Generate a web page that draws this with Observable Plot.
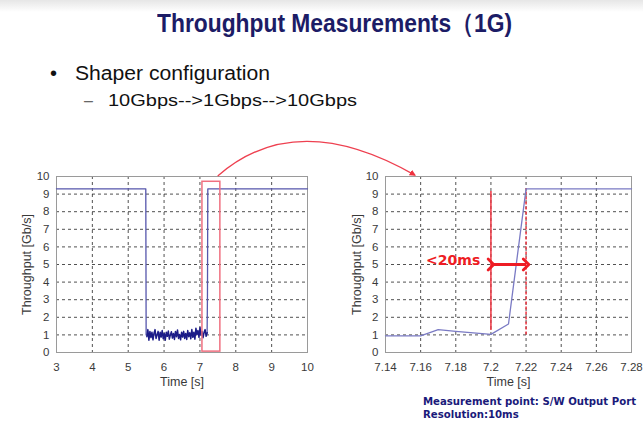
<!DOCTYPE html>
<html><head><meta charset="utf-8">
<script src="https://cdn.jsdelivr.net/npm/d3@7"></script>
<script src="https://cdn.jsdelivr.net/npm/@observablehq/plot@0.6"></script>
<style>
body{margin:0;background:#fff;}
#page{position:relative;width:643px;height:421px;overflow:hidden;font-family:"Liberation Sans",Arial,sans-serif;background:linear-gradient(#e6e6e6 0px,#ffffff 12px);}
.abs{position:absolute;white-space:nowrap;line-height:1;transform-origin:0 50%;}
.plot{position:absolute;}
</style></head><body><div id="page"></div>
<script>
// ---------- texts ----------
const titleText = "Throughput Measurements（1G)";
const bulletText = "Shaper configuration";
const subText = "10Gbps-->1Gbps-->10Gbps";
const noteLines = ["Measurement point: S/W Output Port", "Resolution:10ms"];
const xLabel = "Time [s]";
const yLabel = "Throughput [Gb/s]";
const spanLabel = "<20ms";

// ---------- ticks ----------
const yTicks = [0,1,2,3,4,5,6,7,8,9,10];
const leftXTicks = [3,4,5,6,7,8,9,10];
const rightXTicks = [7.14,7.16,7.18,7.2,7.22,7.24,7.26,7.28];

// ---------- left chart series ----------
const leftHighT1 = [3, 5.49, 5.5];
const leftHighV1 = [9.3, 9.3, 1.0];
const leftHighT2 = [7.2, 7.21, 7.22, 10];
const leftHighV2 = [1.1, 3.2, 9.3, 9.3];
const noiseStart = 5.52, noiseStep = 0.0285;
const noiseV = [0.9,1.3,0.7,1.2,0.85,1.15,0.72,1.1,1.3,0.8,1.0,1.2,0.7,1.15,0.88,1.25,0.78,1.08,0.7,1.15,
                0.92,1.22,0.76,1.0,1.18,0.82,1.08,0.74,1.2,0.9,1.28,0.8,1.02,0.72,1.15,0.88,1.2,0.8,1.08,0.74,
                1.25,0.9,1.12,0.78,1.3,0.86,1.15,0.76,1.38,1.02,1.25,0.86,1.42,0.98,1.2,0.84,1.15,1.3,0.92,1.12];
const zoomBox = {x1: 7.07, x2: 7.57, y1: 0.05, y2: 9.7};

// ---------- right chart series ----------
const rightT = [7.14, 7.16, 7.17, 7.18, 7.19, 7.2, 7.21, 7.22, 7.28];
const rightV = [0.95, 0.95, 1.3, 1.2, 1.12, 1.03, 1.62, 9.3, 9.3];
const markStart = {x: 7.2, y1: 1.25, y2: 9.15};
const markEnd = {x: 7.22, y1: 1.0, y2: 9.3};
const spanY = 5;
const spanLabelPos = {x: 7.1785, y: 5.25};

// ---------- build tables ----------
const leftSeg1 = leftHighT1.map((t,i)=>({t, v: leftHighV1[i]}));
const leftSeg2 = leftHighT2.map((t,i)=>({t, v: leftHighV2[i]}));
const noise = noiseV.map((v,i)=>({t: noiseStart + i*noiseStep, v}));
const rightData = rightT.map((t,i)=>({t, v: rightV[i]}));

const page = document.getElementById("page");
const fmt = d => String(+(+d).toFixed(2));
const baseStyle = {fontFamily:"'Liberation Sans', Arial, sans-serif", fontSize:"11.5px", color:"#3a3a3a", background:"transparent", overflow:"visible"};
const gridOpts = {stroke:"#333", strokeOpacity:0.85, strokeDasharray:"3,3", strokeWidth:1};

function axes(xTicks, yDx){
  return [
    Plot.gridX(xTicks, gridOpts),
    Plot.gridY(yTicks, gridOpts),
    Plot.frame({stroke:"#9a9a9a"}),
    Plot.axisX(xTicks, {tickSize:0, tickPadding:10, tickFormat: fmt, label: null}),
    Plot.axisY(yTicks, {tickSize:0, tickPadding:7, label: null}),
    Plot.text([xLabel], {frameAnchor:"bottom", dy:33, text: d => d, fontSize:12.5, fill:"#3a3a3a"}),
    Plot.text([yLabel], {frameAnchor:"left", textAnchor:"middle", dx:yDx, rotate:-90, text: d => d, fontSize:12.5, fill:"#3a3a3a"})
  ];
}

const left = Plot.plot({
  width: 320, height: 240, marginLeft: 56, marginRight: 13, marginTop: 16, marginBottom: 48,
  style: baseStyle,
  x: {domain:[3,10]},
  y: {domain:[0,10]},
  marks: [
    ...axes(leftXTicks, -30),
    Plot.line(leftSeg1, {x:"t", y:"v", stroke:"#5656ac", strokeWidth:1.3}),
    Plot.line(leftSeg2, {x:"t", y:"v", stroke:"#5656ac", strokeWidth:1.3}),
    Plot.line(noise, {x:"t", y:"v", stroke:"#1c1c88", strokeWidth:1.5}),
    Plot.rect([zoomBox], {x1:"x1", x2:"x2", y1:"y1", y2:"y2", fill:"none", stroke:"#f07080", strokeWidth:1.5})
  ]
});
left.classList.add("plot");
left.style.left = "0px"; left.style.top = "160px";
page.appendChild(left);

const right = Plot.plot({
  width: 313, height: 240, marginLeft: 55, marginRight: 12, marginTop: 16, marginBottom: 48,
  style: baseStyle,
  x: {domain:[7.14,7.28]},
  y: {domain:[0,10]},
  marks: [
    ...axes(rightXTicks, -29),
    Plot.ruleX([markStart], {x:"x", y1:"y1", y2:"y2", stroke:"#ee3340", strokeWidth:1.5}),
    Plot.ruleX([markEnd], {x:"x", y1:"y1", y2:"y2", stroke:"#ee3340", strokeWidth:1.5, strokeDasharray:"3,2"}),
    Plot.line(rightData, {x:"t", y:"v", stroke:"#7a7ac4", strokeWidth:1.3}),
    Plot.link([{x1: markStart.x, x2: markEnd.x, y: spanY}], {x1:"x1", x2:"x2", y1:"y", y2:"y", stroke:"#ee1c24", strokeWidth:2.8, marker:"arrow"}),
    Plot.text([spanLabelPos], {x:"x", y:"y", text: () => spanLabel, fill:"#ee1c24", fontWeight:"bold", fontSize:14, fontFamily:"'DejaVu Sans', sans-serif"})
  ]
});
right.classList.add("plot");
right.style.left = "330px"; right.style.top = "160px";
page.appendChild(right);

// ---------- html texts ----------
function addText(txt, left, centerY, size, opts={}){
  const d = document.createElement("div");
  d.className = "abs";
  d.textContent = txt;
  d.style.left = left + "px";
  d.style.fontSize = size + "px";
  d.style.top = (centerY - size/2) + "px";
  d.style.color = opts.color || "#111";
  if (opts.family) d.style.fontFamily = opts.family;
  if (opts.weight) d.style.fontWeight = opts.weight;
  page.appendChild(d);
  if (opts.width){
    const w = d.getBoundingClientRect().width;
    d.style.transform = `scaleX(${opts.width / w})`;
  }
  return d;
}
addText(titleText, 157, 23, 26, {color:"#1c1c66", width:355, weight:"bold"});
addText("•", 50, 73, 20, {});
addText(bulletText, 75, 73, 20, {width:195});
addText("–", 84, 101, 16, {color:"#666"});
addText(subText, 108, 101, 16, {width:249});
const n1 = addText(noteLines[0], 423, 401, 11, {color:"#1a1a7a", weight:"bold", family:"'DejaVu Sans', sans-serif", width:213});
const s = n1.style.transform;
const n2 = addText(noteLines[1], 423, 414, 11, {color:"#1a1a7a", weight:"bold", family:"'DejaVu Sans', sans-serif"});
n2.style.transform = s;

// ---------- curved connector arrow ----------
const sx = left.scale("x").apply(7.51) + 0, sy = left.scale("y").apply(10) + 160;
const ex = right.scale("x").apply(7.157) + 330, ey = right.scale("y").apply(10.05) + 160;
const cx = (sx + ex)/2 - 20, cy = Math.min(sy, ey) - 68;
const ov = d3.select(page).append("svg")
  .attr("width",643).attr("height",421)
  .style("position","absolute").style("left","0px").style("top","0px").style("pointer-events","none");
ov.append("defs").append("marker").attr("id","ah").attr("viewBox","0 0 10 10").attr("refX",8).attr("refY",5)
  .attr("markerWidth",5).attr("markerHeight",5).attr("orient","auto")
  .append("path").attr("d","M0,0L10,5L0,10z").attr("fill","#ee3340");
const p = d3.path(); p.moveTo(sx, sy); p.quadraticCurveTo(cx, cy, ex, ey);
ov.append("path").attr("d", p.toString()).attr("fill","none").attr("stroke","#ee4050").attr("stroke-width",1.3).attr("marker-end","url(#ah)");
</script>
</body></html>
